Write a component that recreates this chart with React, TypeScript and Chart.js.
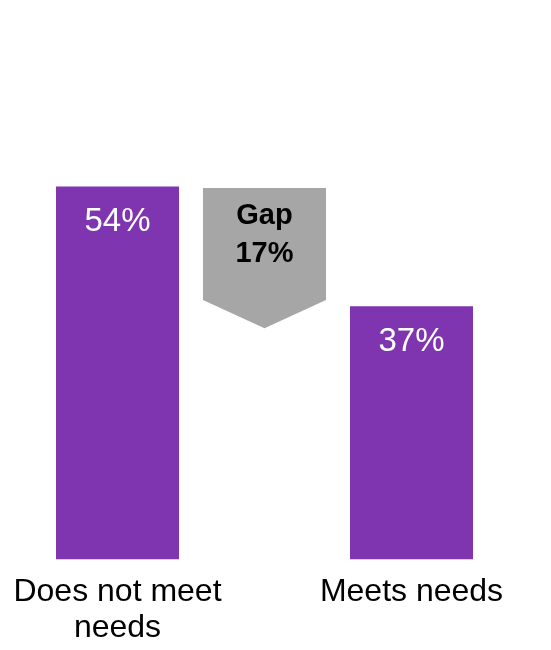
import React, { useEffect, useRef } from "react";
import { Chart, registerables } from "chart.js";

Chart.register(...registerables);

const categories: (string | string[])[] = [["Does not meet", "needs"], "", "Meets needs"];
const values: (number | null)[] = [53.9, null, 36.6];
const valueLabels: string[] = ["54%", "", "37%"];
const gapIndex = 1;
const gapText: string[] = ["Gap", "17%"];
// gap arrow: top, body bottom, tip (in % on the value scale)
const gapShape: number[] = [53.7, 37.5, 33.4];

const PURPLE = "#7E35AF";
const GRAY = "#A6A6A6";
const FONT = "'Liberation Sans', Arial, Helvetica, sans-serif";

const overlayPlugin = {
  id: "overlay",
  afterDatasetsDraw(chart: any) {
    const ctx = chart.ctx;
    const meta = chart.getDatasetMeta(0);
    const yScale = chart.scales.y;
    const xScale = chart.scales.x;
    ctx.save();
    // value labels
    ctx.fillStyle = "#ffffff";
    ctx.font = `33px ${FONT}`;
    ctx.textAlign = "center";
    ctx.textBaseline = "alphabetic";
    meta.data.forEach((el: any, i: number) => {
      if (values[i] == null) return;
      ctx.fillText(valueLabels[i], el.x, el.y + 44.5);
    });
    // gap arrow
    const ref = meta.data[0];
    const w = ref.width;
    const cx = xScale.getPixelForValue(gapIndex);
    const top = yScale.getPixelForValue(gapShape[0]);
    const body = yScale.getPixelForValue(gapShape[1]);
    const tip = yScale.getPixelForValue(gapShape[2]);
    ctx.fillStyle = GRAY;
    ctx.beginPath();
    ctx.moveTo(cx - w / 2, top);
    ctx.lineTo(cx + w / 2, top);
    ctx.lineTo(cx + w / 2, body);
    ctx.lineTo(cx, tip);
    ctx.lineTo(cx - w / 2, body);
    ctx.closePath();
    ctx.fill();
    ctx.fillStyle = "#000000";
    ctx.font = `bold 29px ${FONT}`;
    gapText.forEach((t, i) => {
      ctx.fillText(t, cx, top + 36.5 + i * 38);
    });
    ctx.restore();
  },
};

export default function App() {
  const ref = useRef<HTMLCanvasElement | null>(null);
  useEffect(() => {
    if (!ref.current) return;
    const chart = new Chart(ref.current, {
      type: "bar",
      data: {
        labels: categories as any,
        datasets: [
          {
            data: values,
            backgroundColor: PURPLE,
            borderWidth: 0,
            categoryPercentage: 1,
            barPercentage: 0.837,
          },
        ],
      },
      options: {
        responsive: false,
        animation: false,
        layout: { padding: { top: 6, left: 44, right: 66, bottom: -11 } },
        plugins: {
          legend: { display: false },
          tooltip: { enabled: false },
        },
        scales: {
          y: { display: false, min: 0, max: 80 },
          x: {
            grid: { display: false, drawTicks: false },
            border: { display: false },
            afterFit(scale: any) {
              scale.paddingLeft = 0;
              scale.paddingRight = 0;
            },
            ticks: {
              color: "#000000",
              padding: 14,
              maxRotation: 0,
              autoSkip: false,
              font: { family: FONT, size: 32, lineHeight: 1.15 },
            },
          },
        },
      },
      plugins: [overlayPlugin],
    });
    return () => chart.destroy();
  }, []);
  return (
    <div style={{ position: "absolute", left: 0, top: 0, width: 551, height: 650, background: "#fff" }}>
      <canvas ref={ref} width={551} height={650} style={{ display: "block" }} />
    </div>
  );
}
